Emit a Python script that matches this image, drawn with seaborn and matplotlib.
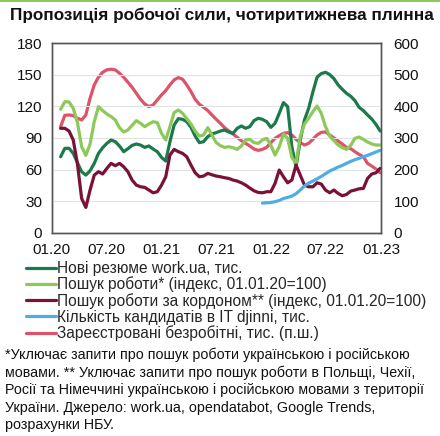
import matplotlib
matplotlib.use("Agg")
import matplotlib.pyplot as plt
import matplotlib.dates as mdates
from matplotlib.patches import Rectangle
import seaborn as sns
import pandas as pd

# biweekly points, 4-week moving averages
dates = pd.date_range("2020-01-30", periods=77, freq="14D")

# Нові резюме work.ua, тис. (left axis)
resumes = [72.2, 80.2, 80.2, 75.4, 66.5, 58.0, 54.8, 58.9, 65.9, 75.4,
           80.8, 84.9, 88.1, 86.5, 82.4, 77.0, 79.8, 83.0, 84.3, 83.3,
           81.1, 82.4, 79.5, 77.0, 71.6, 68.1, 86.5, 102.3, 108.4, 107.7,
           105.5, 100.1, 91.9, 85.6, 86.5, 91.3, 93.8, 95.1, 96.6, 97.6,
           95.7, 94.4, 99.2, 101.4, 99.2, 100.8, 106.5, 108.7, 107.7, 105.5,
           100.1, 103.9, 113.4, 123.6, 119.8, 81.7, 62.7, 88.1, 107.1, 118.2,
           133.7, 147.7, 151.1, 152.4, 150.2, 146.4, 140.4, 136.2, 132.4, 129.6,
           125.5, 119.1, 116.0, 111.9, 108.0, 103.0, 96.6]

# Пошук роботи (index)
job_search = [117.2, 124.5, 124.2, 118.2, 104.6, 81.7, 73.5, 84.3, 105.5, 119.8,
              116.0, 112.8, 110.3, 107.1, 99.8, 95.7, 97.6, 102.0, 106.5, 103.9,
              100.8, 103.3, 105.5, 104.6, 94.4, 88.1, 100.8, 114.1, 116.6, 113.4,
              108.4, 103.3, 96.6, 91.9, 92.8, 99.8, 92.8, 85.6, 82.7, 81.1,
              81.7, 80.8, 79.2, 82.4, 88.1, 88.7, 85.6, 84.9, 88.1, 89.7,
              83.3, 73.8, 81.7, 93.8, 89.7, 71.6, 65.9, 91.3, 103.3, 108.7,
              115.0, 120.4, 113.4, 100.8, 91.9, 87.5, 83.3, 80.8, 79.2, 83.0,
              89.7, 90.9, 88.7, 86.2, 84.3, 83.3, 83.3]

# Пошук роботи за кордоном (index)
abroad = [99.2, 99.2, 96.6, 88.1, 65.3, 32.6, 24.1, 40.6, 54.8, 58.0,
          55.8, 61.2, 65.9, 63.7, 65.9, 62.7, 58.0, 50.1, 45.3, 43.7,
          43.1, 40.6, 38.0, 39.0, 45.3, 53.2, 73.8, 79.2, 77.0, 75.4,
          72.2, 64.3, 57.0, 53.2, 53.9, 56.4, 55.1, 53.9, 53.2, 52.3,
          51.6, 50.1, 49.1, 47.5, 45.3, 42.5, 39.9, 38.3, 38.0, 39.0,
          39.0, 46.9, 59.6, 53.2, 47.5, 50.1, 64.3, 54.8, 45.3, 43.7,
          43.7, 47.5, 46.3, 40.6, 38.0, 40.6, 37.4, 35.2, 36.4, 39.6,
          40.6, 41.8, 42.1, 51.6, 55.8, 57.0, 61.2]

# Кількість кандидатів в IT djinni, тис. (starts late 2021)
djinni_start = 48
djinni = [28.2, 28.5, 28.8, 29.5, 30.7, 32.6, 33.6, 34.9, 37.1, 40.6,
          44.4, 47.2, 49.1, 51.3, 53.5, 56.1, 58.6, 60.5, 62.4, 64.0,
          65.9, 67.8, 69.4, 70.7, 72.2, 73.5, 75.1, 76.7, 78.3]

# Зареєстровані безробітні, тис. (right axis)
unemployed = [336.0, 371.8, 372.9, 370.8, 362.3, 357.0, 372.9, 425.7, 468.0, 492.2,
              508.1, 515.5, 517.6, 515.5, 504.9, 492.2, 476.4, 460.5, 441.5, 422.5,
              407.7, 399.3, 404.6, 420.4, 436.3, 450.0, 468.0, 483.8, 491.2, 485.9,
              468.0, 446.8, 422.5, 406.7, 397.2, 386.6, 372.9, 359.1, 346.5, 332.7,
              322.2, 312.7, 302.1, 291.5, 283.1, 274.6, 265.1, 260.9, 264.1, 270.4,
              285.2, 298.9, 307.4, 314.8, 316.9, 309.5, 295.8, 285.2, 277.8, 283.1,
              295.8, 309.5, 317.9, 319.0, 309.5, 300.0, 290.5, 281.0, 270.4, 266.2,
              256.7, 248.2, 240.8, 219.7, 211.3, 201.8, 190.1]

labels = ["Нові резюме work.ua, тис.",
          "Пошук роботи* (індекс, 01.01.20=100)",
          "Пошук роботи за кордоном** (індекс, 01.01.20=100)",
          "Кількість кандидатів в IT djinni, тис.",
          "Зареєстровані безробітні, тис. (п.ш.)"]
colors = ["#1b7a4b", "#8dc95a", "#7a1139", "#4fade3", "#dc5469"]

footnote = ("*Уключає запити про пошук роботи українською і російською\n"
            "мовами. ** Уключає запити про пошук роботи в Польщі, Чехії,\n"
            "Росії та Німеччині українською і російською мовами з території\n"
            "України. Джерело: work.ua, opendatabot, Google Trends,\n"
            "розрахунки НБУ.")

sns.set_style("white")
plt.rcParams["font.family"] = ["Liberation Sans", "DejaVu Sans"]

fig = plt.figure(figsize=(4.4, 4.36), dpi=100)
ax = fig.add_axes([0.118, 0.466, 0.748, 0.435])
ax2 = ax.twinx()

lw = 2.3
sns.lineplot(x=dates, y=resumes, ax=ax, color=colors[0], lw=lw, label=labels[0], legend=False)
sns.lineplot(x=dates, y=job_search, ax=ax, color=colors[1], lw=lw, label=labels[1], legend=False)
sns.lineplot(x=dates, y=abroad, ax=ax, color=colors[2], lw=lw, label=labels[2], legend=False)
sns.lineplot(x=dates[djinni_start:], y=djinni, ax=ax, color=colors[3], lw=lw, label=labels[3], legend=False)
sns.lineplot(x=dates, y=unemployed, ax=ax2, color=colors[4], lw=lw, label=labels[4], legend=False)

# left-axis lines on top of the right-axis one
ax.set_zorder(ax2.get_zorder() + 1)
ax.patch.set_visible(False)

ax.set_xlim(pd.Timestamp("2020-01-01"), pd.Timestamp("2023-01-01"))
ax.set_ylim(0, 180)
ax2.set_ylim(0, 600)
ax.set_yticks(range(0, 181, 30))
ax2.set_yticks(range(0, 601, 100))
ax.xaxis.set_major_locator(mdates.MonthLocator(bymonth=[1, 7]))
ax.xaxis.set_major_formatter(mdates.DateFormatter("%m.%y"))
ax.xaxis.set_minor_locator(mdates.YearLocator())
ax.set_xlabel("")
ax.set_ylabel("")
ax2.set_ylabel("")

ax.grid(axis="y", color="#e3e3e3", lw=0.8)
ax.grid(axis="x", which="minor", color="#e3e3e3", lw=0.8)
ax.grid(axis="x", which="major", visible=False)
ax.tick_params(axis="both", which="both", length=0, labelsize=11, colors="#111111")
ax.tick_params(axis="y", pad=7)
ax.tick_params(axis="x", pad=7.5)
ax2.tick_params(axis="y", length=0, labelsize=11, colors="#111111", pad=9)
for a in (ax, ax2):
    for s in a.spines.values():
        s.set_color("#555555")
        s.set_linewidth(1.0)

fig.text(0.023, 0.965, "Пропозиція робочої сили, чотиритижнева плинна",
         fontsize=12.3, fontweight="bold", va="center", ha="left", color="#111111")

handles = ax.get_lines()[:4] + ax2.get_lines()[:1]
fig.legend(handles, labels, loc="upper left", bbox_to_anchor=(0.06, 1 - 261 / 436),
           frameon=False, fontsize=11.2, handlelength=1.9, handletextpad=0.05,
           labelspacing=0.04, borderaxespad=0, borderpad=0)

fig.text(0.012, 1 - 348 / 436, footnote, fontsize=10.3, va="top", ha="left",
         linespacing=1.29, color="#111111")

fig.add_artist(Rectangle((0, 1 - 2.5 / 436), 1, 2.5 / 436, transform=fig.transFigure,
                         color="#8dc95a", lw=0))

fig.savefig("out.png", dpi=100)
